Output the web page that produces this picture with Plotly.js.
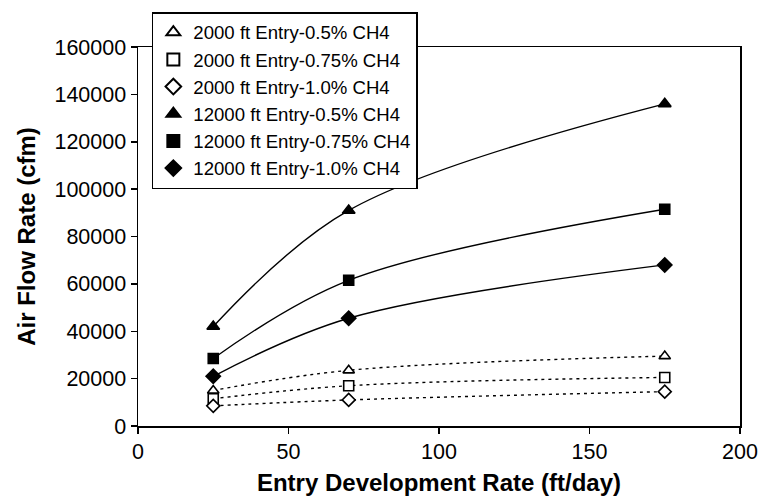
<!DOCTYPE html>
<html>
<head>
<meta charset="utf-8">
<script src="https://cdn.plot.ly/plotly-3.0.1.min.js"></script>
<style>html,body{margin:0;padding:0;background:#fff;}#chart{width:758px;height:498px;}</style>
</head>
<body>
<div id="chart"></div>
<script>
const rates = [25, 70, 175];
const seriesNames = [
  "2000 ft Entry-0.5% CH4",
  "2000 ft Entry-0.75% CH4",
  "2000 ft Entry-1.0% CH4",
  "12000 ft Entry-0.5% CH4",
  "12000 ft Entry-0.75% CH4",
  "12000 ft Entry-1.0% CH4"
];
const e2000_05 = [15000, 23500, 29500];
const e2000_075 = [11500, 17000, 20500];
const e2000_10 = [8500, 11000, 14500];
const e12000_05 = [42000, 91000, 136000];
const e12000_075 = [28500, 61500, 91500];
const e12000_10 = [21000, 45500, 68000];
const xTicks = [0, 50, 100, 150, 200];
const yTicks = [0, 20000, 40000, 60000, 80000, 100000, 120000, 140000, 160000];

const seriesValues = [e2000_05, e2000_075, e2000_10, e12000_05, e12000_075, e12000_10];
const symbols = ["triangle-up", "square", "diamond", "triangle-up", "square", "diamond"];
const sizes = [10, 10, 10, 11, 10, 11];
const dashes = ["3px,4px", "3px,4px", "3px,4px", "solid", "solid", "solid"];

const traces = [];
seriesValues.forEach((vals, i) => {
  traces.push({
    x: rates, y: vals, type: "scatter", mode: "lines",
    line: {color: "#000", width: 1.4, shape: "spline", smoothing: 1, dash: dashes[i]},
    showlegend: false, hoverinfo: "skip", legendgroup: "g" + i
  });
});
seriesValues.forEach((vals, i) => {
  traces.push({
    x: rates, y: vals, type: "scatter", mode: "markers", name: seriesNames[i],
    marker: {symbol: symbols[i], size: sizes[i], color: i < 3 ? "#fff" : "#000",
             line: {color: "#000", width: 1.6}},
    legendgroup: "g" + i
  });
});

const fontFam = "Liberation Sans, Arial, Helvetica, sans-serif";
const layout = {
  width: 758, height: 498,
  margin: {l: 138, r: 18, t: 45, b: 72},
  paper_bgcolor: "#fff", plot_bgcolor: "#fff",
  font: {family: fontFam, color: "#000", size: 18},
  showlegend: true,
  legend: {
    x: 0.023, y: 1.092, xanchor: "left", yanchor: "top",
    bgcolor: "#fff", bordercolor: "#000", borderwidth: 1.5,
    font: {family: fontFam, size: 18.6, color: "#000"},
    tracegroupgap: 0, itemsizing: "constant"
  },
  xaxis: {
    range: [0, 200], tickvals: xTicks, ticktext: xTicks.map(String),
    showgrid: false, zeroline: false, showline: true, linecolor: "#000", linewidth: 1.5,
    mirror: true, ticks: "outside", ticklen: 6, tickwidth: 1.5, tickcolor: "#000",
    tickfont: {size: 21.5},
    title: {text: "<b>Entry Development Rate (ft/day)</b>", font: {size: 24}, standoff: 11}
  },
  yaxis: {
    range: [0, 160000], tickvals: yTicks, ticktext: yTicks.map(String),
    showgrid: false, zeroline: false, showline: true, linecolor: "#000", linewidth: 1.5,
    mirror: true, ticks: "outside", ticklen: 6, tickwidth: 1.5, tickcolor: "#000",
    tickfont: {size: 21.5},
    title: {text: "<b>Air Flow Rate (cfm)</b>", font: {size: 24}, standoff: 12}
  }
};
Plotly.newPlot("chart", traces, layout, {displayModeBar: false, staticPlot: true});
</script>
</body>
</html>
